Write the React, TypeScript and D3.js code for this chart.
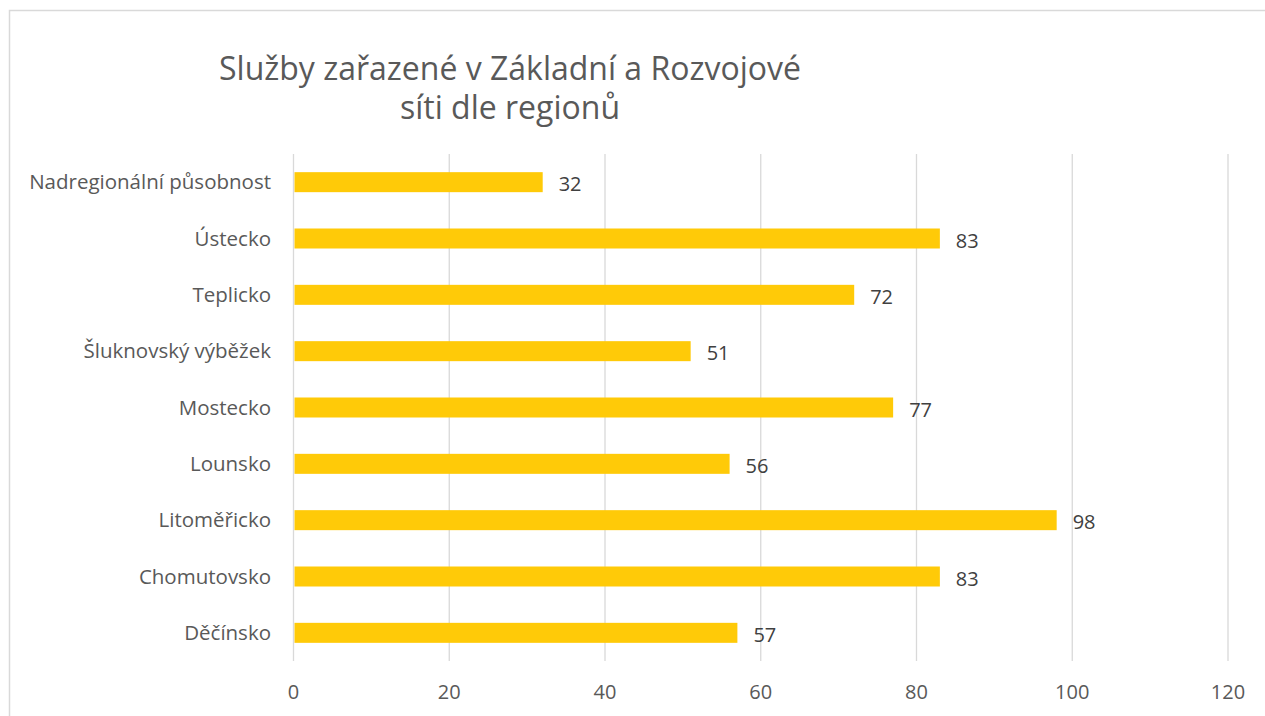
import React from "react";
import * as d3 from "d3";

const categories = [
  "Nadregionální působnost",
  "Ústecko",
  "Teplicko",
  "Šluknovský výběžek",
  "Mostecko",
  "Lounsko",
  "Litoměřicko",
  "Chomutovsko",
  "Děčínsko",
];
const values = [32, 83, 72, 51, 77, 56, 98, 83, 57];
const xTicks = [0, 20, 40, 60, 80, 100, 120];
const titleLines = ["Služby zařazené v Základní a Rozvojové", "síti dle regionů"];

const W = 1265;
const H = 716;
const FONT = "'Open Sans', Lato, sans-serif";

export default function App() {
  const x = d3.scaleLinear().domain([0, 120]).range([293.5, 1228]);
  const y = d3.scaleBand<string>().domain(categories).range([154, 661]).paddingInner(0.645).paddingOuter(0.3225);

  return (
    <svg
      width={W}
      height={H}
      style={{ position: "absolute", left: 0, top: 0, background: "#fff" }}
      fontFamily={FONT}
    >
      <rect x={9.5} y={10.5} width={W + 10} height={H + 10} fill="#fff" stroke="#d9d9d9" strokeWidth={1.5} />
      {titleLines.map((t, i) => (
        <text key={i} x={510} y={80 + i * 39} textAnchor="middle" fontSize={32} fill="#595959">
          {t}
        </text>
      ))}
      {xTicks.map((t) => (
        <g key={t}>
          <line x1={x(t)} x2={x(t)} y1={154} y2={661} stroke="#d9d9d9" strokeWidth={1.3} />
          <text x={x(t)} y={699} textAnchor="middle" fontSize={20} fill="#595959">
            {t}
          </text>
        </g>
      ))}
      {categories.map((c, i) => {
        const yy = y(c)!;
        const bh = y.bandwidth();
        return (
          <g key={c}>
            <rect x={x(0) + 1} y={yy} width={x(values[i]) - x(0) - 1} height={bh} fill="#FFCA08" />
            <text x={271} y={yy + bh / 2} dy="0.35em" textAnchor="end" fontSize={20.5} fill="#595959">
              {c}
            </text>
            <text x={x(values[i]) + 16} y={yy + bh / 2 + 2} dy="0.35em" textAnchor="start" fontSize={20} fill="#404040">
              {values[i]}
            </text>
          </g>
        );
      })}
    </svg>
  );
}
